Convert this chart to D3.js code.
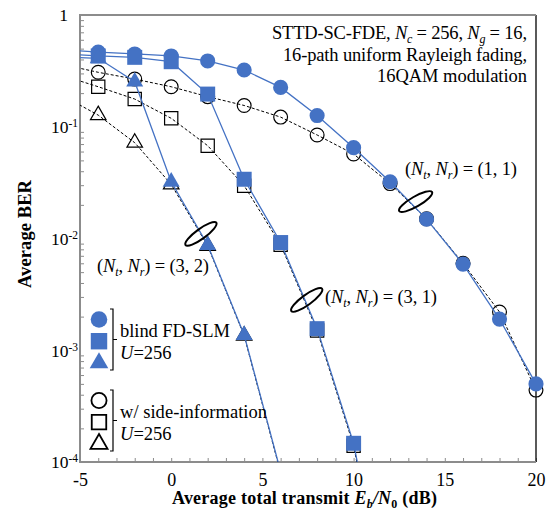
<!DOCTYPE html>
<html>
<head>
<meta charset="utf-8">
<script src="https://cdn.jsdelivr.net/npm/d3@7"></script>
<style>
  body { margin: 0; background: #fff; }
  svg { font-family: "Liberation Serif", "Times New Roman", serif; }
</style>
</head>
<body>
<svg id="chart" width="554" height="511"></svg>
<script>
// Eb/N0 values (dB); -6 lies left of the axis and is only there so the lines reach the edge
var snr = [-6, -4, -2, 0, 2, 4, 6, 8, 10, 12, 14, 16, 18, 20]

// (Nt, Nr) = (1, 1)
var blind11 = [0.49, 0.465, 0.448, 0.43, 0.388, 0.322, 0.225, 0.126, 0.065, 0.0322, 0.0149, 0.0059, 0.0019, 0.0005]
var side11  = [0.362, 0.307, 0.267, 0.228, 0.186, 0.155, 0.122, 0.0844, 0.057, 0.031, 0.015, 0.006, 0.0022, 0.00044]
// (Nt, Nr) = (3, 1)
var blind31 = [0.45, 0.43, 0.418, 0.382, 0.196, 0.0339, 0.0092, 0.00156, 0.000147, 3.3e-6]
var side31  = [0.289, 0.228, 0.177, 0.119, 0.0677, 0.0297, 0.0088, 0.0015, 0.00014, 3e-6]
// (Nt, Nr) = (3, 2)
var blind32 = [0.42, 0.41, 0.253, 0.0322, 0.00875, 0.00137, 8.2e-5]
var side32  = [0.192, 0.127, 0.072, 0.0305, 0.0086, 0.00135, 8e-5]

var xTicks = [-5, 0, 5, 10, 15, 20]
var yTicks = [1e-4, 1e-3, 1e-2, 1e-1, 1]
var yTickExp = ["-4", "-3", "-2", "-1", ""]

var blue = "#4472C4"
var svg = d3.select("#chart")

var margin = {top: 15, right: 18, bottom: 49, left: 80},
  width = 554 - margin.left - margin.right,
  height = 511 - margin.top - margin.bottom

var x = d3.scaleLinear().domain([-5, 20]).range([margin.left, margin.left + width])
var y = d3.scaleLog().domain([1e-4, 1]).range([margin.top + height, margin.top])

svg.append("clipPath").attr("id", "clip")
  .append("rect")
    .attr("x", margin.left).attr("y", margin.top)
    .attr("width", width).attr("height", height)

// minor ticks
var xMinor = d3.range(-5, 21, 1)
svg.append("g")
  .attr("transform", "translate(0," + (margin.top + height) + ")")
  .call(d3.axisTop(x).tickValues(xMinor).tickSize(4).tickFormat(""))
  .call(g => g.select(".domain").remove())
  .call(g => g.selectAll("line").attr("stroke", "#8c8c8c"))

var yMinor = []
for (var e = -4; e < 0; e++) for (var m = 2; m < 10; m++) yMinor.push(m * Math.pow(10, e))
svg.append("g")
  .attr("transform", "translate(" + margin.left + ",0)")
  .call(d3.axisRight(y).tickValues(yMinor).tickSize(4).tickFormat(""))
  .call(g => g.select(".domain").remove())
  .call(g => g.selectAll("line").attr("stroke", "#8c8c8c"))

// frame
svg.append("line")
  .attr("x1", margin.left + width).attr("x2", margin.left + width)
  .attr("y1", margin.top).attr("y2", margin.top + height)
  .attr("stroke", "#000").attr("stroke-width", 1.3)
svg.append("path")
  .attr("d", "M" + (margin.left + width) + "," + margin.top + "H" + margin.left +
    "V" + (margin.top + height) + "H" + (margin.left + width))
  .attr("fill", "none").attr("stroke", "#8c8c8c").attr("stroke-width", 2)

// x tick labels
svg.append("g")
  .attr("transform", "translate(0," + (margin.top + height) + ")")
  .call(d3.axisBottom(x).tickValues(xTicks).tickSize(0).tickPadding(11).tickFormat(d => String(d)))
  .call(g => g.select(".domain").remove())
  .call(g => g.selectAll("text")
    .attr("font-family", "Liberation Serif").attr("font-size", 18).attr("fill", "#000"))

// y tick labels with superscripts
var yAxis = svg.append("g")
  .attr("transform", "translate(" + margin.left + ",0)")
  .call(d3.axisLeft(y).tickValues(yTicks).tickSize(0).tickFormat(""))
yAxis.select(".domain").remove()
yAxis.selectAll(".tick").each(function(d, i) {
  var t = d3.select(this).append("text")
    .attr("font-family", "Liberation Serif").attr("font-size", 17.5).attr("fill", "#000")
    .attr("text-anchor", "end").attr("dy", "0.33em")
  if (yTickExp[i]) {
    t.attr("x", -2)
    t.append("tspan").text("10")
    t.append("tspan").attr("font-size", 11.5).attr("dy", -6).text(yTickExp[i])
  } else {
    t.attr("x", -12).text("1")
  }
})

// curves
function series(vals) {
  return vals.map(function(v, i) { return {x: snr[i], y: v} })
}
var line = d3.line().x(d => x(d.x)).y(d => y(d.y))
var visible = d => d.x >= -5 && d.y >= 1e-4

var sideSets = [
  {data: series(side11), shape: d3.symbolCircle, size: 150},
  {data: series(side31), shape: d3.symbolSquare, size: 175},
  {data: series(side32), shape: d3.symbolTriangle, size: 105}
]
var blindSets = [
  {data: series(blind11), shape: d3.symbolCircle, size: 180},
  {data: series(blind31), shape: d3.symbolSquare, size: 225},
  {data: series(blind32), shape: d3.symbolTriangle, size: 125}
]

sideSets.forEach(function(s) {
  svg.append("path").datum(s.data)
    .attr("clip-path", "url(#clip)")
    .attr("d", line).attr("fill", "none")
    .attr("stroke", "#000").attr("stroke-width", 1).attr("stroke-dasharray", "3,2")
  svg.append("g").selectAll("path")
    .data(s.data.filter(visible)).enter().append("path")
    .attr("transform", d => "translate(" + x(d.x) + "," + y(d.y) + ")")
    .attr("d", d3.symbol().type(s.shape).size(s.size))
    .attr("fill", "none").attr("stroke", "#000").attr("stroke-width", 1.2)
})

blindSets.forEach(function(s) {
  svg.append("path").datum(s.data)
    .attr("clip-path", "url(#clip)")
    .attr("d", line).attr("fill", "none")
    .attr("stroke", blue).attr("stroke-width", 1.3)
  svg.append("g").selectAll("path")
    .data(s.data.filter(visible)).enter().append("path")
    .attr("transform", d => "translate(" + x(d.x) + "," + y(d.y) + ")")
    .attr("d", d3.symbol().type(s.shape).size(s.size))
    .attr("fill", blue)
})

// group ellipses: [Eb/N0, BER, rotation]
var groupMarks = [[13.4, 0.0214, -30], [1.63, 0.011, -36], [7.43, 0.00282, -36]]
svg.selectAll(".grp").data(groupMarks).enter().append("ellipse")
  .attr("transform", d => "translate(" + x(d[0]) + "," + y(d[1]) + ") rotate(" + d[2] + ")")
  .attr("rx", 19).attr("ry", 5)
  .attr("fill", "none").attr("stroke", "#000").attr("stroke-width", 2)

// text helpers
function sub(sel, s, italic) {
  sel.append("tspan").attr("font-style", italic ? "italic" : null)
    .attr("font-size", 12).attr("dy", 4).text(s)
}
function nLabel(sel, pair) {
  sel.append("tspan").text("(")
  sel.append("tspan").attr("font-style", "italic").text("N")
  sub(sel, "t", true)
  sel.append("tspan").attr("dy", -4).text(", ")
  sel.append("tspan").attr("font-style", "italic").text("N")
  sub(sel, "r", true)
  sel.append("tspan").attr("dy", -4).text(") = " + pair)
}
var groupLabels = [["(1, 1)", 405, 175], ["(3, 2)", 97, 272], ["(3, 1)", 325, 303]]
groupLabels.forEach(function(g) {
  var t = svg.append("text").attr("x", g[1]).attr("y", g[2])
    .attr("font-size", 18.5).attr("fill", "#000")
    .attr("textLength", 112).attr("lengthAdjust", "spacing")
  nLabel(t, g[0])
})

// parameters box
var t1 = svg.append("text").attr("x", 527).attr("y", 39)
  .attr("text-anchor", "end").attr("font-size", 18.5)
  .attr("textLength", 255).attr("lengthAdjust", "spacing")
t1.append("tspan").text("STTD-SC-FDE, ")
t1.append("tspan").attr("font-style", "italic").text("N")
sub(t1, "c", true)
t1.append("tspan").attr("dy", -4).text(" = 256, ")
t1.append("tspan").attr("font-style", "italic").text("N")
sub(t1, "g", true)
t1.append("tspan").attr("dy", -4).text(" = 16,")
svg.append("text").attr("x", 527).attr("y", 61).attr("text-anchor", "end")
  .attr("font-size", 18.5).attr("textLength", 244).attr("lengthAdjust", "spacing")
  .text("16-path uniform Rayleigh fading,")
svg.append("text").attr("x", 527).attr("y", 82).attr("text-anchor", "end")
  .attr("font-size", 18.5).attr("textLength", 150).attr("lengthAdjust", "spacing")
  .text("16QAM modulation")

// legend
var legendGroups = [
  {label: "blind FD-SLM", len: 110, top: 309, sets: blindSets, filled: true},
  {label: "w/ side-information", len: 147, top: 390, sets: sideSets, filled: false}
]
legendGroups.forEach(function(lg) {
  lg.sets.forEach(function(s, i) {
    svg.append("path")
      .attr("transform", "translate(99," + (lg.top + 10.5 + i * 21.7) + ")")
      .attr("d", d3.symbol().type(s.shape).size(s.size * 1.2))
      .attr("fill", lg.filled ? blue : "none")
      .attr("stroke", lg.filled ? "none" : "#000").attr("stroke-width", 1.8)
  })
  var b = lg.top, e = lg.top + 61
  svg.append("path")
    .attr("d", "M110," + b + "H113V" + e + "H110M113," + ((b + e) / 2) + "H117")
    .attr("fill", "none").attr("stroke", "#000").attr("stroke-width", 1.2)
  svg.append("text").attr("x", 120).attr("y", (b + e) / 2 - 3)
    .attr("font-size", 18.5).attr("textLength", lg.len).attr("lengthAdjust", "spacing")
    .text(lg.label)
  var u = svg.append("text").attr("x", 120).attr("y", (b + e) / 2 + 19).attr("font-size", 18.5)
  u.append("tspan").attr("font-style", "italic").text("U")
  u.append("tspan").text("=256")
})

// axis titles
svg.append("text")
  .attr("transform", "translate(31,234) rotate(-90)")
  .attr("text-anchor", "middle").attr("font-weight", "bold").attr("font-size", 18.5)
  .attr("textLength", 108).attr("lengthAdjust", "spacing")
  .text("Average BER")
var xt = svg.append("text").attr("x", 172).attr("y", 504)
  .attr("font-weight", "bold").attr("font-size", 18)
  .attr("textLength", 265).attr("lengthAdjust", "spacing")
xt.append("tspan").text("Average total transmit ")
xt.append("tspan").attr("font-style", "italic").text("E")
sub(xt, "b", true)
xt.append("tspan").attr("dy", -4).attr("font-style", "italic").text("/N")
sub(xt, "0", false)
xt.append("tspan").attr("dy", -4).text(" (dB)")
</script>
</body>
</html>
